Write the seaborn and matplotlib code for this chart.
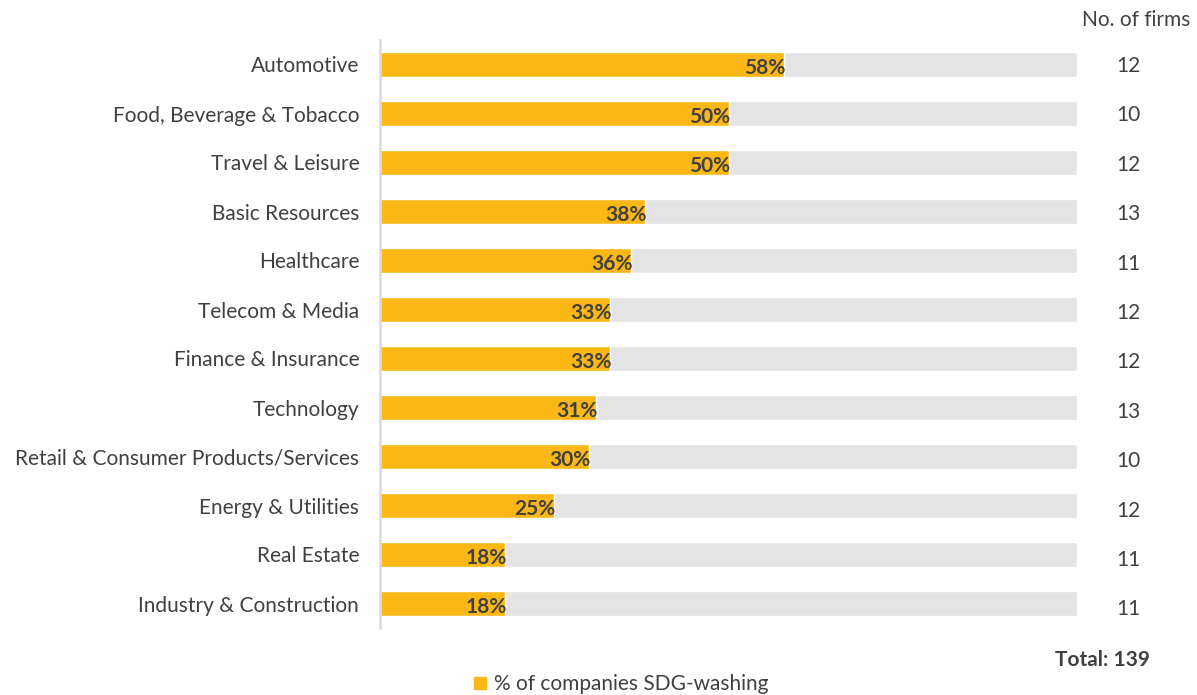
import matplotlib
matplotlib.use("Agg")
import matplotlib.pyplot as plt
import seaborn as sns
import pandas as pd
from matplotlib.lines import Line2D

categories = ["Automotive", "Food, Beverage & Tobacco", "Travel & Leisure", "Basic Resources",
              "Healthcare", "Telecom & Media", "Finance & Insurance", "Technology",
              "Retail & Consumer Products/Services", "Energy & Utilities", "Real Estate",
              "Industry & Construction"]
pct_values = [58, 50, 50, 38, 36, 33, 33, 31, 30, 25, 18, 18]
firms = [12, 10, 12, 13, 11, 12, 12, 13, 10, 12, 11, 11]
total_firms = 139
full_scale = [100] * len(categories)

sns.set_theme(style="white")
plt.rcParams['font.family'] = ['Lato', 'DejaVu Sans']

df = pd.DataFrame({"cat": categories, "pct": pct_values, "full": full_scale, "firms": firms})

W, H = 1197, 695
fig = plt.figure(figsize=(W/100, H/100), dpi=100)
ax = fig.add_axes([380/W, 1 - 628/H, (1077-380)/W, (628-40)/H])

sns.barplot(data=df, y="cat", x="full", color="#E4E4E4", width=0.49, ax=ax, orient="h", saturation=1)
sns.barplot(data=df, y="cat", x="pct", color="#FBB716", width=0.49, ax=ax, orient="h", saturation=1)

ax.set_xlim(0, 100)
ax.set_ylim(len(categories) - 0.5, -0.5)
ax.set_xlabel("")
ax.set_ylabel("")
ax.set_xticks([])
for s in ["top", "right", "bottom"]:
    ax.spines[s].set_visible(False)
ax.spines["left"].set_color("#D9D9D9")
ax.spines["left"].set_linewidth(1.8)
ax.tick_params(axis="y", length=0, pad=15, labelsize=15, labelcolor="#404040")

for i, (v, n) in enumerate(zip(pct_values, firms)):
    ax.text(v + 0.2, i + 0.08, f"{v}%", ha="right", va="center", fontsize=15, fontweight="bold", color="#404040")
    fig.text(1128/W, 1 - (66 + 49.4*i)/H, str(n), ha="center", va="center", fontsize=15, color="#404040")

fig.text(1190/W, 1 - 20/H, "No. of firms", ha="right", va="center", fontsize=15, color="#404040")
fig.text(1150/W, 1 - 660/H, f"Total: {total_firms}", ha="right", va="center", fontsize=15,
         fontweight="bold", color="#404040")

handle = Line2D([], [], marker="s", linestyle="", color="#FBB716", markersize=8)
fig.legend([handle], ["% of companies SDG-washing"], loc="center", bbox_to_anchor=(619/W, 1 - 684/H),
           frameon=False, fontsize=15, handletextpad=0.15, handlelength=1.0, labelcolor="#404040")

fig.savefig("out.png", dpi=100)
